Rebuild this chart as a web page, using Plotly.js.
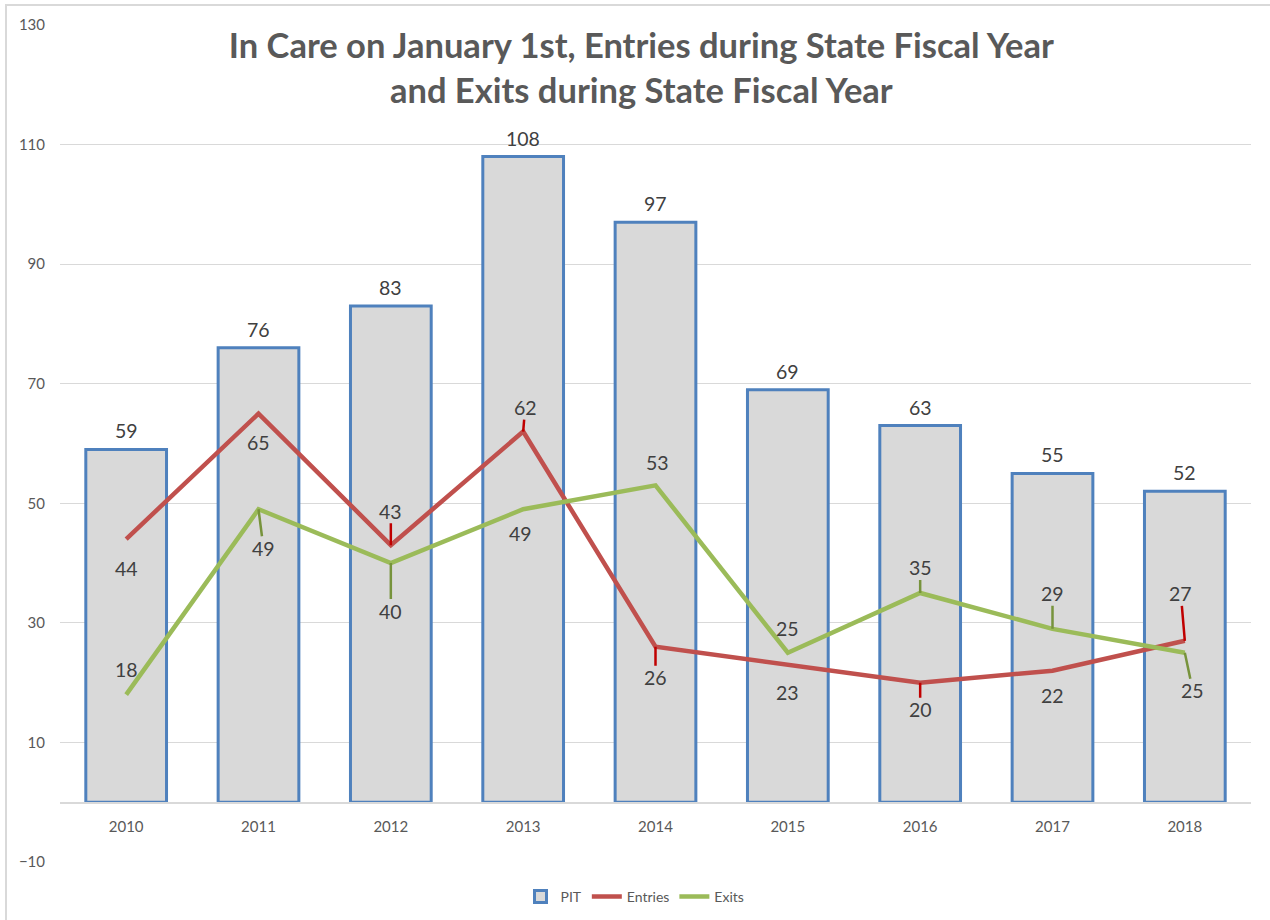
<!DOCTYPE html>
<html>
<head>
<meta charset="utf-8">
<script src="https://cdn.plot.ly/plotly-3.0.1.min.js"></script>
<style>
  html, body { margin: 0; padding: 0; background: #fff; }
  #wrap { position: relative; width: 1270px; height: 920px; }
  #chart { position: absolute; left: 0; top: 0; width: 1270px; height: 920px; }
  #frame { position: absolute; left: 5px; top: 4px; width: 1300px; height: 1000px;
           border-left: 2px solid #d9d9d9; border-top: 2px solid #d9d9d9; pointer-events: none; }
</style>
</head>
<body>
<div id="wrap">
  <div id="chart"></div>
  <div id="frame"></div>
</div>
<script>
// ---- data ----
const years   = ["2010","2011","2012","2013","2014","2015","2016","2017","2018"];
const pit     = [59, 76, 83, 108, 97, 69, 63, 55, 52];
const entries = [44, 65, 43, 62, 26, 23, 20, 22, 27];
const exits   = [18, 49, 40, 49, 53, 25, 35, 29, 25];

// ---- label placement (style: pixel offsets of data labels, and whether a leader line is shown) ----
const entriesLabelStyle = [
  {dx: 0, dy: 29, lead: false}, {dx: 0, dy: 29, lead: false}, {dx: 0, dy: -34, lead: true},
  {dx: 2, dy: -24, lead: true}, {dx: 0, dy: 31, lead: true}, {dx: 0, dy: 28, lead: false},
  {dx: 0, dy: 27, lead: true}, {dx: 0, dy: 25, lead: false}, {dx: -4, dy: -47, lead: true}
];
const exitsLabelStyle = [
  {dx: 0, dy: -25, lead: false}, {dx: 5, dy: 39, lead: true}, {dx: 0, dy: 48, lead: true},
  {dx: -3, dy: 24, lead: false}, {dx: 2, dy: -23, lead: false}, {dx: 0, dy: -24, lead: false},
  {dx: 0, dy: -25, lead: true}, {dx: 0, dy: -35, lead: true}, {dx: 8, dy: 38, lead: true}
];

const FONT = "Lato, 'Open Sans', sans-serif";
const labelFont = {family: FONT, size: 19.5, color: "#404040"};

const traces = [
  {
    type: "bar", name: "PIT", x: years, y: pit,
    marker: {color: "#d9d9d9", line: {color: "#4f81bd", width: 3}},
    hoverinfo: "skip"
  },
  {
    type: "scatter", mode: "lines", name: "Entries", x: years, y: entries,
    line: {color: "#c0504d", width: 4.5}, hoverinfo: "skip"
  },
  {
    type: "scatter", mode: "lines", name: "Exits", x: years, y: exits,
    line: {color: "#9bbb59", width: 4.5}, hoverinfo: "skip"
  }
];

const annotations = [];
years.forEach((yr, i) => {
  annotations.push({
    x: i, y: pit[i], xref: "x", yref: "y", text: String(pit[i]),
    showarrow: false, yanchor: "bottom", yshift: 5, font: labelFont
  });
});
function lineLabels(vals, styles, leadColor) {
  years.forEach((yr, i) => {
    const s = styles[i];
    annotations.push({
      x: i, y: vals[i], xref: "x", yref: "y", text: String(vals[i]),
      showarrow: true, ax: s.dx, ay: s.dy, arrowhead: 0, standoff: 0, startstandoff: 0,
      arrowwidth: 2.5, arrowcolor: s.lead ? leadColor : "rgba(0,0,0,0)",
      font: labelFont, borderpad: 0
    });
  });
}
lineLabels(entries, entriesLabelStyle, "#c00000");
lineLabels(exits, exitsLabelStyle, "#77933c");

const yMin = -10, yMax = 130;

const layout = {
  width: 1270, height: 920,
  margin: {l: 60, r: 19, t: 25, b: 58, autoexpand: false},
  paper_bgcolor: "#ffffff", plot_bgcolor: "#ffffff",
  font: {family: FONT, color: "#595959"},
  title: {
    text: "In Care on January 1st, Entries during State Fiscal Year<br>and Exits during State Fiscal Year",
    font: {family: FONT, size: 34.5, color: "#595959", weight: "bold"},
    x: 0.505, xanchor: "center", y: 0.937, yanchor: "middle", yref: "container"
  },
  bargap: 0.39,
  showlegend: true,
  legend: {
    orientation: "h", x: 0.5, xanchor: "center", xref: "container",
    y: 1 - 897 / 920, yanchor: "middle", yref: "container",
    font: {family: FONT, size: 14, color: "#595959"}, traceorder: "normal"
  },
  xaxis: {
    type: "category", range: [-0.5, years.length - 0.5], autorange: false,
    anchor: "free", position: (0 - yMin) / (yMax - yMin),
    showline: true, linecolor: "#d9d9d9", linewidth: 1.5,
    ticks: "", showgrid: false,
    tickfont: {family: FONT, size: 15, color: "#595959"}, ticklabelstandoff: 10
  },
  yaxis: {
    range: [yMin, yMax], autorange: false, tick0: -10, dtick: 20, showgrid: true,
    gridcolor: "#d9d9d9", gridwidth: 1, zeroline: false, showline: false, ticks: "",
    tickfont: {family: FONT, size: 15, color: "#595959"}, ticklabelstandoff: 14
  },
  annotations: annotations,
  hovermode: false
};

Plotly.newPlot("chart", traces, layout, {displayModeBar: false, staticPlot: true});
</script>
</body>
</html>
